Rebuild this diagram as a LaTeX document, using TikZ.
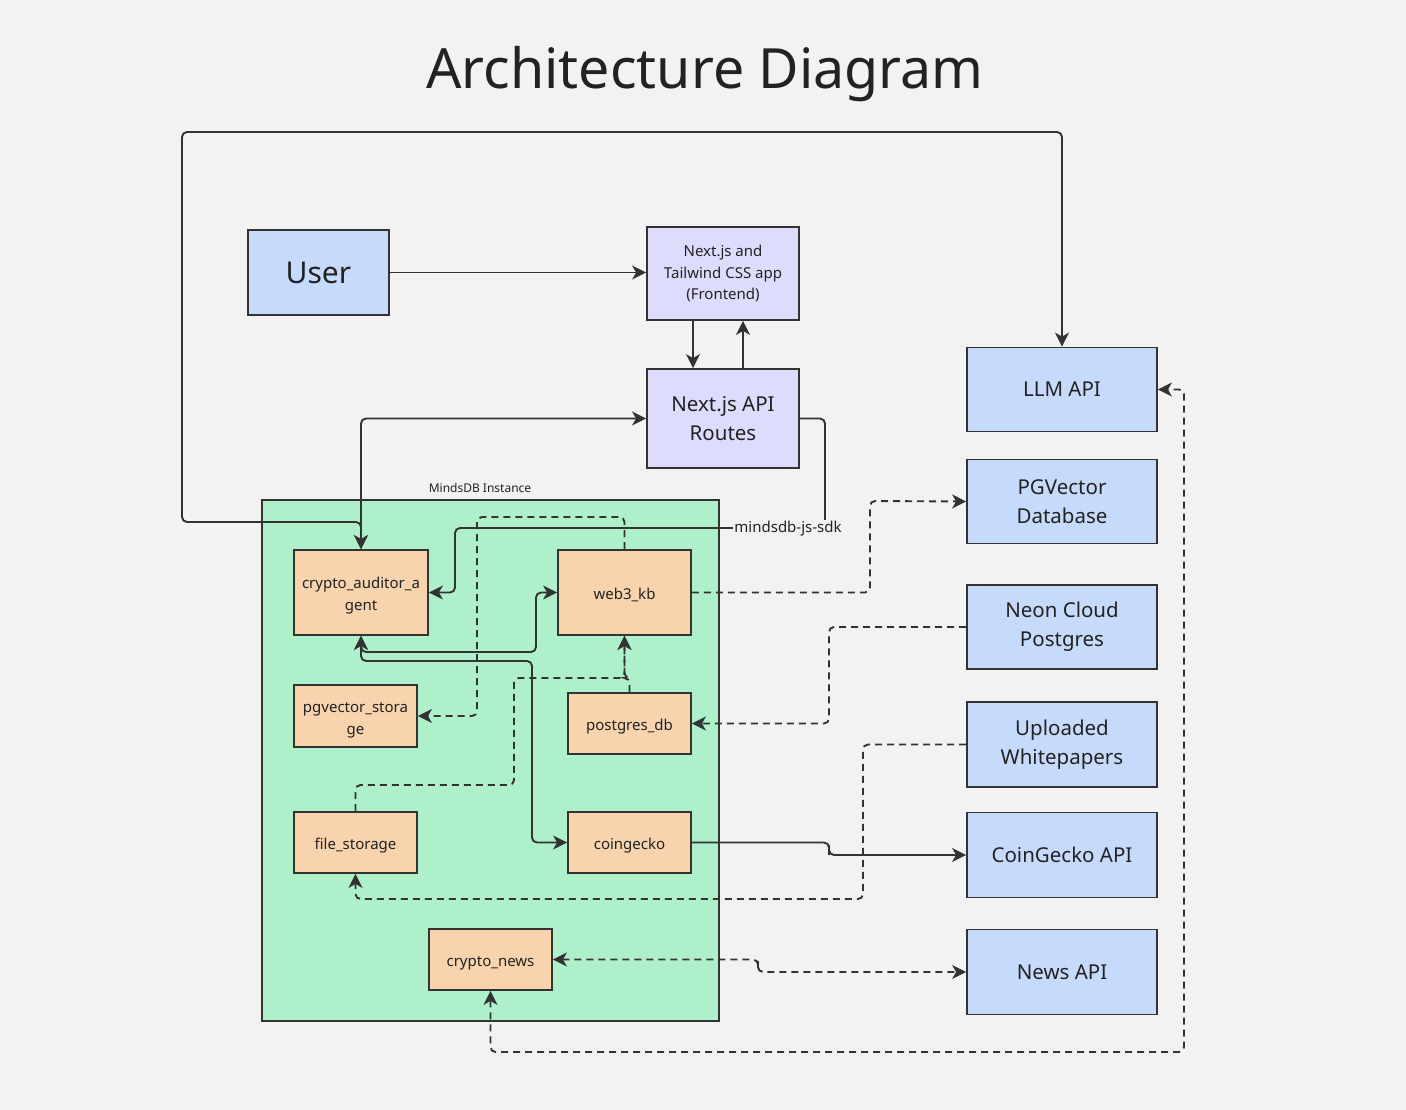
\documentclass[tikz,border=0pt]{standalone}
\usepackage{fontspec}
\setmainfont{Noto Sans}
\usetikzlibrary{arrows.meta}
\definecolor{bg}{HTML}{F2F2F2}
\definecolor{ln}{HTML}{333333}
\definecolor{txt}{HTML}{222222}
\definecolor{bluef}{HTML}{C6DBFC}
\definecolor{lavf}{HTML}{DEDCFC}
\definecolor{greenf}{HTML}{ADF0C9}
\definecolor{orangef}{HTML}{F7D3AE}
\newcommand{\lowtext}[1]{\raisebox{-3pt}[\height][\depth]{\begin{tabular}{@{}c@{}}#1\end{tabular}}}
\tikzset{
  box/.style={draw=ln, line width=1.8pt, inner sep=0pt, align=center, text=txt},
  bluebox/.style={box, fill=bluef, minimum width=190, minimum height=84, font=\fontsize{20.5}{29}\selectfont},
  lavbox/.style={box, fill=lavf},
  orbox/.style={box, fill=orangef, font=\fontsize{15}{22}\selectfont},
  conn/.style={draw=ln, line width=1.9pt, rounded corners=5pt},
  tip/.tip={Stealth[length=14pt,width=14pt,inset=4pt]},
  arr/.style={conn, -tip},
  barr/.style={conn, tip-tip},
  dsh/.style={dash pattern=on 7pt off 5pt}
}
\begin{document}
\begin{tikzpicture}[x=1pt,y=-1pt]
\fill[bg] (0,0) rectangle (1406,1110);
\useasboundingbox (0,0) rectangle (1406,1110);

\node[text=txt, font=\fontsize{55.5}{60}\selectfont, anchor=base] (title) at (705,89) {Architecture Diagram};

% container
\node[draw=ln, line width=1.8pt, fill=greenf, minimum width=457, minimum height=521, inner sep=0pt] (mdb) at (490.5,760.5) {};
\node[text=txt, font=\fontsize{12}{14}\selectfont] (mdblabel) at (480,488) {MindsDB Instance};

% top nodes
\node[box, fill=bluef, minimum width=141, minimum height=85, font=\fontsize{30}{36}\selectfont] (user) at (318.5,272.5) {User};
\node[lavbox, minimum width=152, minimum height=93, font=\fontsize{15}{21.5}\selectfont] (fe) at (723,273.5) {Next.js and\\Tailwind CSS app\\(Frontend)};
\node[lavbox, minimum width=152, minimum height=99, font=\fontsize{20.5}{29}\selectfont] (api) at (723,418.5) {Next.js API\\Routes};

% right column
\node[bluebox] (llm) at (1062,389.5) {LLM API};
\node[bluebox] (pgdb) at (1062,501.5) {PGVector\\Database};
\node[bluebox] (neon) at (1062,627) {Neon Cloud\\Postgres};
\node[bluebox, minimum height=85] (upl) at (1062,744.5) {Uploaded\\Whitepapers};
\node[bluebox, minimum height=85] (cgapi) at (1062,855) {CoinGecko API};
\node[bluebox, minimum height=85] (news) at (1062,972) {News API};

% inner nodes
\node[orbox, minimum width=134, minimum height=85] (agent) at (361,592.5) {\lowtext{crypto\_auditor\_a\\gent}};
\node[orbox, minimum width=133, minimum height=85] (web3) at (624.5,592.5) {\lowtext{web3\_kb}};
\node[orbox, minimum width=123, minimum height=62] (pgvs) at (355.5,716) {\lowtext{pgvector\_stora\\ge}};
\node[orbox, minimum width=123, minimum height=61] (pgdbn) at (629.5,723.5) {\lowtext{postgres\_db}};
\node[orbox, minimum width=123, minimum height=61] (fs) at (355.5,842.5) {\lowtext{file\_storage}};
\node[orbox, minimum width=123, minimum height=61] (cg) at (629.5,842.5) {\lowtext{coingecko}};
\node[orbox, minimum width=123, minimum height=61] (cn) at (490.5,959.5) {\lowtext{crypto\_news}};

% connectors
\draw[arr] (user) -- (fe.west |- user);
\draw[arr] ([xshift=-30pt]fe.south) -- ([xshift=-30pt]api.north);
\draw[arr] ([xshift=20pt]api.north) -- ([xshift=20pt]fe.south);
\draw[barr] (api.west) -| (agent.north);
\draw[barr] (llm.north) |- (182,132) -- (182,522) -| (agent.north);
\draw[arr] (api.east) -| (825,528) -- (455,528) |- (agent.east);
\node[fill=bg, text=txt, font=\fontsize{15}{18}\selectfont, inner sep=1.5pt] (sdk) at (788,529) {mindsdb-js-sdk};
\draw[barr] (agent.south) |- (536,652) |- (web3.west);
\draw[barr] (agent.south) |- (532,661) |- (cg.west);
\draw[arr, dsh] (web3.north) |- (477,517) |- (pgvs.east);
\draw[arr, dsh] (pgdbn.north) |- (624.5,678) -- (web3.south);
\draw[arr, dsh] (fs.north) |- (514,785) |- (624.5,678) -- (web3.south);
\draw[arr, dsh] (web3.east) -| (870,501) -- (pgdb.west);
\draw[arr, dsh] (neon.west) -| (829,700) |- (pgdbn.east);
\draw[arr, dsh] (upl.west) -| (863,899) -| (fs.south);
\draw[arr] (cg.east) -| (829,850) |- (cgapi.west);
\draw[barr, dsh] (cn.east) -| (758,965) |- (news.west);
\draw[barr, dsh] (cn.south) |- (1184,1052) |- (llm.east);
\end{tikzpicture}
\end{document}
